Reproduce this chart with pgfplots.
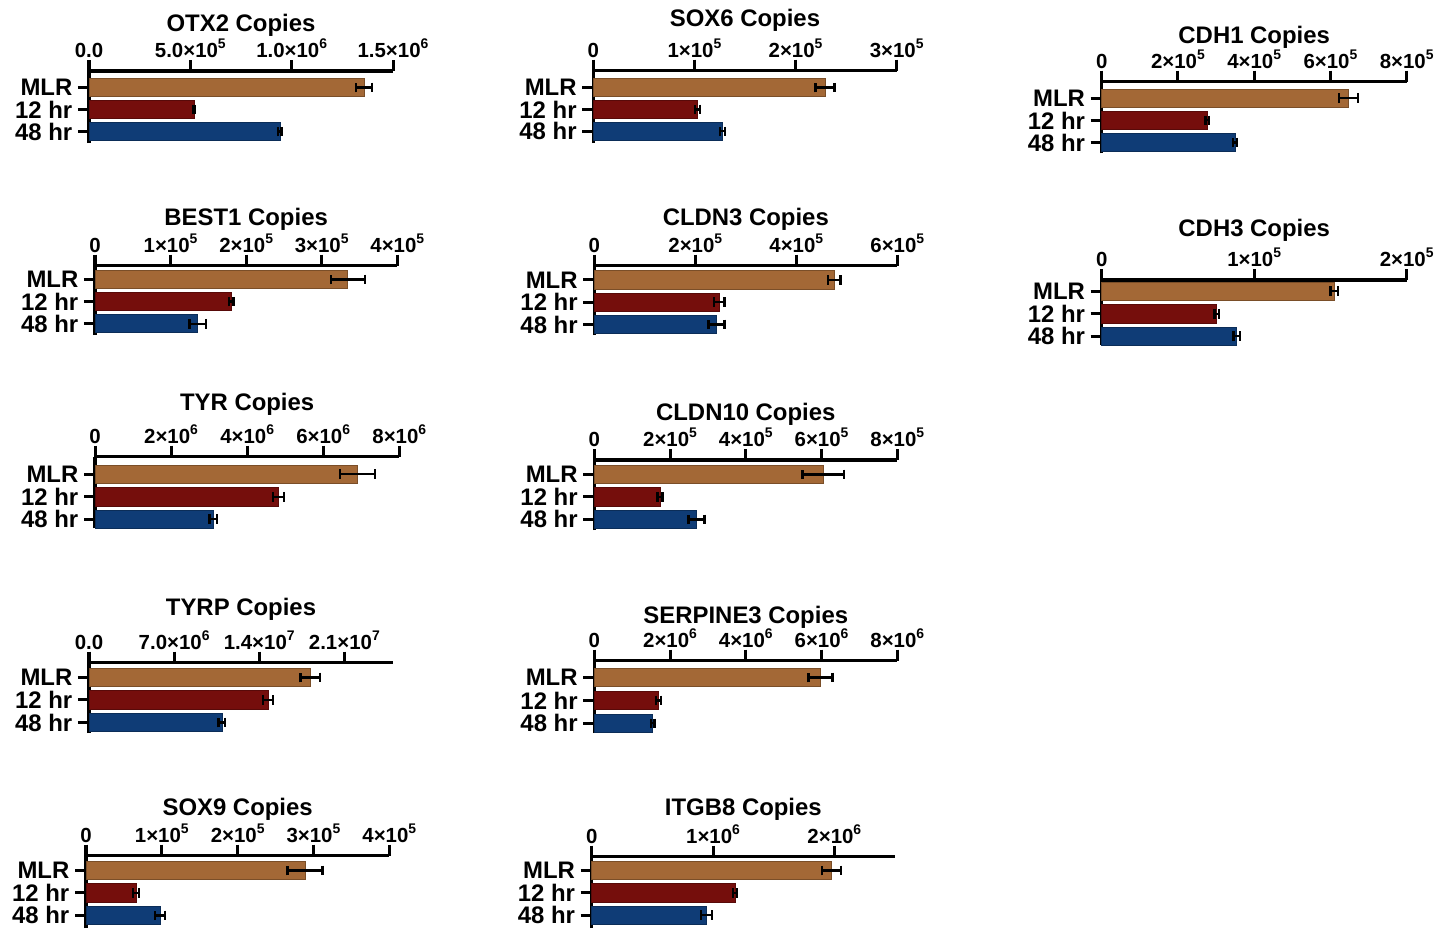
\documentclass[border=0pt]{standalone}
\usepackage{fontspec}
\setmainfont{Liberation Sans}
\usepackage{pgfplots}
\pgfplotsset{compat=1.18}
\definecolor{cM}{RGB}{163,104,54}
\definecolor{cA}{RGB}{117,14,12}
\definecolor{cB}{RGB}{15,60,118}
\newcommand\sci[2]{#1×10\raisebox{0.45em}{\fontsize{14}{14}\selectfont #2}}
\pgfplotsset{
  panel/.style={
    scale only axis, anchor=north west,
    axis x line*=top, axis y line*=left,
    axis line style={line width=3.2bp, -},
    tick align=outside,
    major tick length=11bp,
    every tick/.append style={line width=3bp, black},
    ytick={0,1,2}, yticklabels={48 hr,12 hr,MLR},
    xmin=0, scaled x ticks=false,
    xticklabel style={font=\bfseries\fontsize{20.5}{20.5}\selectfont, inner sep=2bp},
    yticklabel style={font=\bfseries\fontsize{24}{24}\selectfont, inner xsep=5.5bp},
    every axis title/.style={at={(0.5,1)}, anchor=base, font=\bfseries\fontsize{24}{24}\selectfont},
    clip=false,
  },
  berr/.style={error bars/.cd, x dir=both, x explicit,
    error mark=|,
    error bar style={line width=2.2bp, black},
    error mark options={line width=2.4bp, mark size=4.8bp, black}},
  bM/.style={xbar, bar width=0.82, bar shift=0pt, fill=cM, draw=cM!75!black, line width=0.8bp, berr},
  bA/.style={xbar, bar width=0.82, bar shift=0pt, fill=cA, draw=cA!75!black, line width=0.8bp, berr},
  bB/.style={xbar, bar width=0.82, bar shift=0pt, fill=cB, draw=cB!75!black, line width=0.8bp, berr},
}
\begin{document}
\begin{tikzpicture}
\useasboundingbox (0,0) rectangle (1451bp,-933bp);
% OTX2
\begin{axis}[panel, at={(89bp,-71bp)}, width=304bp, height=72bp, xmax=1.5e6, ymin=-0.52, ymax=2.75,
  xtick={0,5e5,1e6,1.5e6}, xticklabels={0.0,\sci{5.0}{5},\sci{1.0}{6},\sci{1.5}{6}},
  title={OTX2 Copies}, title style={yshift=39.3bp}]
\addplot[bM] coordinates {(1.357e6,2) +- (0.039e6,0)};
\addplot[bA] coordinates {(0.518e6,1) +- (0.006e6,0)};
\addplot[bB] coordinates {(0.942e6,0) +- (0.008e6,0)};
\end{axis}
% SOX6
\begin{axis}[panel, at={(593.3bp,-70.7bp)}, width=303.4bp, height=72.3bp, xmax=3e5, ymin=-0.53, ymax=2.77,
  xtick={0,1e5,2e5,3e5}, xticklabels={0,\sci{1}{5},\sci{2}{5},\sci{3}{5}},
  title={SOX6 Copies}, title style={yshift=44bp}]
\addplot[bM] coordinates {(2.292e5,2) +- (9.4e3,0)};
\addplot[bA] coordinates {(1.029e5,1) +- (2.5e3,0)};
\addplot[bB] coordinates {(1.276e5,0) +- (2.5e3,0)};
\end{axis}
% CDH1
\begin{axis}[panel, at={(1101.7bp,-81.7bp)}, width=305bp, height=71.6bp, xmax=8e5, ymin=-0.49, ymax=2.75,
  xtick={0,2e5,4e5,6e5,8e5}, xticklabels={0,\sci{2}{5},\sci{4}{5},\sci{6}{5},\sci{8}{5}},
  title={CDH1 Copies}, title style={yshift=38.4bp}]
\addplot[bM] coordinates {(6.47e5,2) +- (2.5e4,0)};
\addplot[bA] coordinates {(2.77e5,1) +- (5e3,0)};
\addplot[bB] coordinates {(3.50e5,0) +- (5e3,0)};
\end{axis}
% BEST1
\begin{axis}[panel, at={(95bp,-265.7bp)}, width=302.3bp, height=69.3bp, xmax=4e5, ymin=-0.51, ymax=2.62,
  xtick={0,1e5,2e5,3e5,4e5}, xticklabels={0,\sci{1}{5},\sci{2}{5},\sci{3}{5},\sci{4}{5}},
  title={BEST1 Copies}, title style={yshift=40.7bp}]
\addplot[bM] coordinates {(3.344e5,2) +- (2.25e4,0)};
\addplot[bA] coordinates {(1.80e5,1) +- (3e3,0)};
\addplot[bB] coordinates {(1.358e5,0) +- (1.1e4,0)};
\end{axis}
% CLDN3
\begin{axis}[panel, at={(594.3bp,-265.7bp)}, width=303bp, height=69.3bp, xmax=6e5, ymin=-0.47, ymax=2.64,
  xtick={0,2e5,4e5,6e5}, xticklabels={0,\sci{2}{5},\sci{4}{5},\sci{6}{5}},
  title={CLDN3 Copies}, title style={yshift=40bp}]
\addplot[bM] coordinates {(4.752e5,2) +- (1.2e4,0)};
\addplot[bA] coordinates {(2.475e5,1) +- (1.0e4,0)};
\addplot[bB] coordinates {(2.42e5,0) +- (1.55e4,0)};
\end{axis}
% CDH3
\begin{axis}[panel, at={(1101.7bp,-280bp)}, width=305bp, height=65bp, xmax=2e5, ymin=-0.39, ymax=2.5,
  xtick={0,1e5,2e5}, xticklabels={0,\sci{1}{5},\sci{2}{5}},
  title={CDH3 Copies}, title style={yshift=43.3bp}]
\addplot[bM] coordinates {(1.525e5,2) +- (2.5e3,0)};
\addplot[bA] coordinates {(0.754e5,1) +- (1.5e3,0)};
\addplot[bB] coordinates {(0.885e5,0) +- (2.2e3,0)};
\end{axis}
% TYR
\begin{axis}[panel, at={(95bp,-456.7bp)}, width=304.3bp, height=71.6bp, xmax=8e6, ymin=-0.4, ymax=2.78,
  xtick={0,2e6,4e6,6e6,8e6}, xticklabels={0,\sci{2}{6},\sci{4}{6},\sci{6}{6},\sci{8}{6}},
  title={TYR Copies}, title style={yshift=46.7bp}]
\addplot[bM] coordinates {(6.896e6,2) +- (0.46e6,0)};
\addplot[bA] coordinates {(4.82e6,1) +- (0.145e6,0)};
\addplot[bB] coordinates {(3.11e6,0) +- (0.1e6,0)};
\end{axis}
% CLDN10
\begin{axis}[panel, at={(594.3bp,-460bp)}, width=303bp, height=70bp, xmax=8e5, ymin=-0.47, ymax=2.64,
  xtick={0,2e5,4e5,6e5,8e5}, xticklabels={0,\sci{2}{5},\sci{4}{5},\sci{6}{5},\sci{8}{5}},
  title={CLDN10 Copies}, title style={yshift=40bp}]
\addplot[bM] coordinates {(6.046e5,2) +- (5.5e4,0)};
\addplot[bA] coordinates {(1.735e5,1) +- (6.6e3,0)};
\addplot[bB] coordinates {(2.70e5,0) +- (2.1e4,0)};
\end{axis}
% TYRP
\begin{axis}[panel, at={(89bp,-662.7bp)}, width=304bp, height=70.3bp, xmax=2.5e7, ymin=-0.47, ymax=2.66,
  xtick={0,7e6,1.4e7,2.1e7}, xticklabels={0.0,\sci{7.0}{6},\sci{1.4}{7},\sci{2.1}{7}},
  title={TYRP Copies}, title style={yshift=47.7bp}]
\addplot[bM] coordinates {(1.82e7,2) +- (0.82e6,0)};
\addplot[bA] coordinates {(1.472e7,1) +- (0.41e6,0)};
\addplot[bB] coordinates {(1.093e7,0) +- (0.27e6,0)};
\end{axis}
% SERPINE3
\begin{axis}[panel, at={(594.3bp,-660.7bp)}, width=303bp, height=72.3bp, xmax=8e6, ymin=-0.42, ymax=2.73,
  xtick={0,2e6,4e6,6e6,8e6}, xticklabels={0,\sci{2}{6},\sci{4}{6},\sci{6}{6},\sci{8}{6}},
  title={SERPINE3 Copies}, title style={yshift=37.4bp}]
\addplot[bM] coordinates {(5.977e6,2) +- (0.317e6,0)};
\addplot[bA] coordinates {(1.69e6,1) +- (0.066e6,0)};
\addplot[bB] coordinates {(1.54e6,0) +- (0.05e6,0)};
\end{axis}
% SOX9
\begin{axis}[panel, at={(86bp,-855.7bp)}, width=303.3bp, height=72.3bp, xmax=4e5, ymin=-0.56, ymax=2.66,
  xtick={0,1e5,2e5,3e5,4e5}, xticklabels={0,\sci{1}{5},\sci{2}{5},\sci{3}{5},\sci{4}{5}},
  title={SOX9 Copies}, title style={yshift=40.7bp}]
\addplot[bM] coordinates {(2.888e5,2) +- (2.3e4,0)};
\addplot[bA] coordinates {(0.659e5,1) +- (4e3,0)};
\addplot[bB] coordinates {(0.976e5,0) +- (6.6e3,0)};
\end{axis}
% ITGB8
\begin{axis}[panel, at={(591.7bp,-856.7bp)}, width=303.3bp, height=71.3bp, xmax=2.5e6, ymin=-0.58, ymax=2.62,
  xtick={0,1e6,2e6}, xticklabels={0,\sci{1}{6},\sci{2}{6}},
  title={ITGB8 Copies}, title style={yshift=41.7bp}]
\addplot[bM] coordinates {(1.978e6,2) +- (0.078e6,0)};
\addplot[bA] coordinates {(1.181e6,1) +- (0.016e6,0)};
\addplot[bB] coordinates {(0.948e6,0) +- (0.045e6,0)};
\end{axis}
\end{tikzpicture}
\end{document}
